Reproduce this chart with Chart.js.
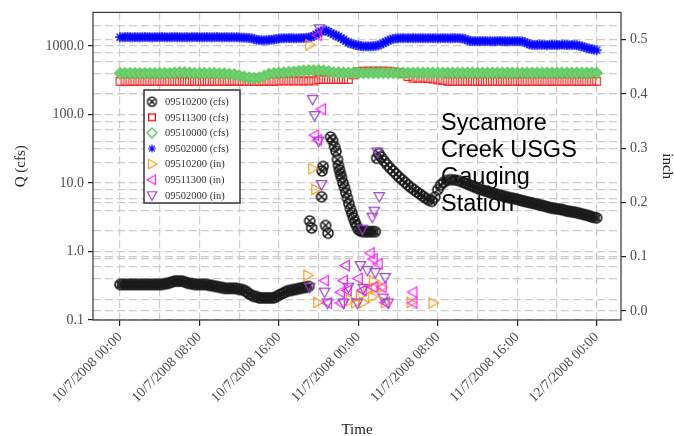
<!DOCTYPE html>
<html>
<head>
  <meta charset="utf-8">
  <title>Sycamore Creek USGS Gauging Station</title>
  <script src="https://cdn.jsdelivr.net/npm/chart.js@4"></script>
  <style>
    body { margin: 0; background: #fff; }
    #wrap { width: 674px; height: 436px; }
  </style>
</head>
<body>
<div id="wrap"><canvas id="chart" width="674" height="436"></canvas></div>
<script>
// hours after 10/7/2008 00:00
var halfHours = [0,0.5,1,1.5,2,2.5,3,3.5,4,4.5,5,5.5,6,6.5,7,7.5,8,8.5,9,9.5,10,10.5,11,11.5,12,12.5,13,13.5,14,14.5,15,15.5,16,16.5,17,17.5,18,18.5,19,19.5,20,20.5,21,21.5,22,22.5,23,23.5,24,24.5,25,25.5,26,26.5,27,27.5,28,28.5,29,29.5,30,30.5,31,31.5,32,32.5,33,33.5,34,34.5,35,35.5,36,36.5,37,37.5,38,38.5,39,39.5,40,40.5,41,41.5,42,42.5,43,43.5,44,44.5,45,45.5,46,46.5,47,47.5,48];
var quarterHours = [
  0,0.25,0.5,0.75,1,1.25,1.5,1.75, 2,2.25,2.5,2.75,3,3.25,3.5,3.75,
  4,4.25,4.5,4.75,5,5.25,5.5,5.75, 6,6.25,6.5,6.75,7,7.25,7.5,7.75,
  8,8.25,8.5,8.75,9,9.25,9.5,9.75, 10,10.25,10.5,10.75,11,11.25,11.5,11.75,
  12,12.25,12.5,12.75,13,13.25,13.5,13.75, 14,14.25,14.5,14.75,15,15.25,15.5,15.75,
  16,16.25,16.5,16.75,17,17.25,17.5,17.75, 18,18.25,18.5,18.75,19,19.25,19.5,19.75,
  20,20.25,20.5,20.75,21,21.25,21.5,21.75, 22,22.25,22.5,22.75,23,23.25,23.5,23.75,
  24,24.25,24.5,24.75,25,25.25,25.5,25.75, 26,26.25,26.5,26.75,27,27.25,27.5,27.75,
  28,28.25,28.5,28.75,29,29.25,29.5,29.75, 30,30.25,30.5,30.75,31,31.25,31.5,31.75,
  32,32.25,32.5,32.75,33,33.25,33.5,33.75, 34,34.25,34.5,34.75,35,35.25,35.5,35.75,
  36,36.25,36.5,36.75,37,37.25,37.5,37.75, 38,38.25,38.5,38.75,39,39.25,39.5,39.75,
  40,40.25,40.5,40.75,41,41.25,41.5,41.75, 42,42.25,42.5,42.75,43,43.25,43.5,43.75,
  44,44.25,44.5,44.75,45,45.25,45.5,45.75, 46,46.25,46.5,46.75,47,47.25,47.5,47.75,
  48];

// 09502000 (cfs), every 15 min
var blueQ = [
  1350,1340,1350,1360,1350,1340,1350,1350, 1340,1350,1360,1350,1350,1340,1350,1350,
  1350,1360,1350,1340,1350,1350,1360,1350, 1350,1340,1350,1350,1340,1350,1360,1350,
  1350,1340,1350,1350,1350,1340,1350,1360, 1350,1340,1350,1350,1340,1350,1340,1350,
  1340,1330,1330,1320,1310,1300,1260,1240, 1220,1220,1210,1220,1230,1240,1250,1270,
  1290,1300,1300,1300,1310,1300,1300,1300, 1300,1310,1310,1320,1330,1360,1400,1480,
  1550,1630,1700,1680,1620,1560,1480,1430, 1380,1310,1250,1180,1120,1090,1060,1040,
  1020,1000,990,990,990,990,1000,1010, 1020,1060,1100,1150,1200,1240,1280,1290,
  1300,1300,1310,1300,1300,1300,1310,1300, 1300,1310,1300,1300,1300,1310,1300,1300,
  1300,1300,1310,1300,1300,1300,1300,1310, 1300,1300,1290,1260,1220,1190,1180,1180,
  1180,1180,1190,1180,1180,1180,1170,1180, 1180,1190,1180,1180,1170,1180,1180,1180,
  1180,1180,1170,1140,1100,1060,1040,1040, 1040,1050,1040,1040,1030,1040,1040,1040,
  1040,1040,1050,1040,1040,1030,1040,1040, 1030,1010,990,960,940,920,900,890,
  870];

// 09510000 (cfs), every 30 min
var greenQ = [400,400,400,400,400,400,400,400,400,400,400,405,410,410,405,400,400,400,400,400,395,395,390,385,
  370,355,345,340,345,365,
  390,400,405,410,415,420,
  430,435,440,440,440,435,425,
  410,410,405,405,405,405,405,405,405,405,405,405,405,405,405,405,405,405,405,405,405,405,405,405,405,405,405,405,
  405,405,405,405,405,405,405,405,405,405,405,405,405,405,405,405,405,405,405,405,405,405,405,405,405,405];

// 09511300 (cfs), every 30 min
var redQ = [305,305,305,305,305,305,305,305,305,305,305,305,305,305,305,305,305,305,305,305,305,305,305,305,305,305,305,305,305,305,305,305,
  310,310,310,310,310,310,310,310,
  325,325,325,325,325,325,325,
  380,420,430,430,430,430,430,430,420,410,395,
  360,340,340,340,335,330,320,315,
  305,305,305,305,305,305,305,305,305,305,305,305,305,305,305,305,305,305,305,305,305,305,305,305,305,305,305,305,305,305,305];

// 09510200 (cfs)
var blackHours = [
  0,0.25,0.5,0.75,1,1.25,1.5,1.75, 2,2.25,2.5,2.75,3,3.25,3.5,3.75,
  4,4.25,4.5,4.75,5,5.25,5.5,5.75, 6,6.25,6.5,6.75,7,7.25,7.5,7.75,
  8,8.25,8.5,8.75,9,9.25,9.5,9.75, 10,10.25,10.5,10.75,11,11.25,11.5,11.75,
  12,12.25,12.5,12.75,13,13.25,13.5,13.75, 14,14.25,14.5,14.75,15,15.25,15.5,15.75,
  16,16.25,16.5,16.75,17,17.25,17.5,17.75, 18,18.25,18.5,18.75,19,
  19.1,19.3,20.3,20.35,20.45,20.7,20.95,
  21.2,21.4,21.6,21.75,21.9,22.0,22.1,22.2,22.3,22.45,22.6,22.75,22.9,23.05,23.2,23.35,23.5,23.65,23.8,24.0,24.2,24.45,24.7,24.95,25.2,25.45,25.7,
  25.85,26.05,26.3,26.6,26.9,27.2,27.5,27.8,28.1,28.4,28.7,29.0,29.3,29.6,29.9,30.2,30.5,30.8,31.1,31.4,31.7,32.0,32.3,32.6,32.9,33.3,33.7,34.1,
  34.5,34.75,35,35.25,35.5,35.75, 36,36.25,36.5,36.75,37,37.25,37.5,37.75,
  38,38.25,38.5,38.75,39,39.25,39.5,39.75, 40,40.25,40.5,40.75,41,41.25,41.5,41.75,
  42,42.25,42.5,42.75,43,43.25,43.5,43.75, 44,44.25,44.5,44.75,45,45.25,45.5,45.75,
  46,46.25,46.5,46.75,47,47.25,47.5,47.75, 48];
var blackQ = [
  0.33,0.33,0.33,0.33,0.33,0.33,0.33,0.33, 0.33,0.33,0.33,0.33,0.33,0.33,0.33,0.33,
  0.33,0.33,0.34,0.34,0.35,0.36,0.37,0.37, 0.37,0.37,0.36,0.35,0.34,0.34,0.33,0.33,
  0.33,0.33,0.33,0.33,0.32,0.32,0.31,0.31, 0.30,0.30,0.29,0.29,0.29,0.29,0.29,0.29,
  0.28,0.28,0.27,0.26,0.24,0.23,0.22,0.22, 0.21,0.21,0.21,0.21,0.21,0.21,0.21,0.22,
  0.23,0.24,0.25,0.26,0.27,0.27,0.28,0.28, 0.29,0.29,0.30,0.30,0.31,
  2.8,2.2,6.3,15,17.5,2.4,1.85,
  47,42,34,29,22,18,15.5,13.5,12,10,8.6,7.2,6.0,5.0,4.2,3.6,3.1,2.7,2.4,2.1,2.0,1.95,1.95,1.95,1.95,1.95,1.95,
  23,27,24,21,18.5,16.5,15,13.5,12.2,11.2,10.2,9.3,8.6,8.0,7.4,6.9,6.4,6.0,5.6,5.4,6.2,8.0,9.4,10.3,10.9,11.2,11.1,10.8,
  10.3,10.0,9.7,9.3,9.0,8.7, 8.4,8.1,7.9,7.7,7.5,7.3,7.1,6.95,
  6.8,6.65,6.5,6.35,6.2,6.1,6.0,5.9, 5.8,5.65,5.5,5.4,5.3,5.2,5.1,5.0,
  4.9,4.8,4.7,4.6,4.5,4.4,4.3,4.25, 4.2,4.15,4.1,4.0,3.9,3.85,3.8,3.75,
  3.7,3.6,3.55,3.45,3.4,3.3,3.2,3.15, 3.1];

// precipitation (inch)
var orangeHours = [18.9,19.1,19.4,19.7,19.9,23.2,23.7,24.2,24.5,24.9,25.4,25.5,25.7,26.4,26.7,29.3,31.5];
var orangeIn = [0.066,0.49,0.262,0.224,0.016,0.02,0.015,0.029,0.016,0.038,0.026,0.056,0.042,0.044,0.016,0.016,0.015];
var magentaHours = [19.9,20.3,19.6,19.9,25.2,25.5,26.0,22.7,20.6,22.5,22.2,22.9,24.4,26.4,20.9,22.2,26.7,29.5,29.5,25.5,24.0];
var magentaIn = [0.508,0.372,0.324,0.315,0.107,0.096,0.087,0.084,0.056,0.056,0.035,0.038,0.038,0.044,0.015,0.015,0.016,0.035,0.015,0.044,0.06];
var purpleHours = [20.1,19.4,19.6,20.0,20.3,24.4,25.4,25.6,26.1,25.9,19.1,20.6,24.2,24.9,25.7,26.7,23.0,24.5,20.9,22.5,23.9,26.5,27.0];
var purpleIn = [0.52,0.39,0.36,0.313,0.233,0.151,0.173,0.184,0.211,0.293,0.044,0.035,0.084,0.075,0.071,0.062,0.044,0.042,0.015,0.015,0.015,0.024,0.015];

var tickHours = [0, 8, 16, 24, 32, 40, 48];
var tickLabels = ['10/7/2008 00:00', '10/7/2008 08:00', '10/7/2008 16:00', '11/7/2008 00:00',
  '11/7/2008 08:00', '11/7/2008 16:00', '12/7/2008 00:00'];
var seriesNames = ['09510200 (cfs)', '09511300 (cfs)', '09510000 (cfs)', '09502000 (cfs)',
  '09510200 (in)', '09511300 (in)', '09502000 (in)'];
var titleLines = ['Sycamore', 'Creek USGS', 'Gauging', 'Station'];

var serif = '"Liberation Serif", "Times New Roman", serif';
var gridColor = '#cccccc';
var clear = 'rgba(0,0,0,0)';

function marker(kind, color, size, lw, fill) {
  var s = Math.ceil(size + 4), c = document.createElement('canvas');
  c.width = s; c.height = s;
  var g = c.getContext('2d'), m = s / 2, r = size / 2;
  g.strokeStyle = color; g.lineWidth = lw;
  g.beginPath();
  if (kind == 'circlex') {
    g.arc(m, m, r, 0, Math.PI * 2);
    var d = r * Math.SQRT1_2;
    g.moveTo(m - d, m - d); g.lineTo(m + d, m + d);
    g.moveTo(m + d, m - d); g.lineTo(m - d, m + d);
  } else if (kind == 'square') {
    g.rect(m - r * 0.85, m - r * 0.85, r * 1.7, r * 1.7);
  } else if (kind == 'diamond') {
    g.moveTo(m, m - r); g.lineTo(m + r, m); g.lineTo(m, m + r); g.lineTo(m - r, m); g.closePath();
  } else if (kind == 'star') {
    var k = r * Math.SQRT1_2;
    g.moveTo(m - r, m); g.lineTo(m + r, m); g.moveTo(m, m - r); g.lineTo(m, m + r);
    g.moveTo(m - k, m - k); g.lineTo(m + k, m + k); g.moveTo(m + k, m - k); g.lineTo(m - k, m + k);
  } else if (kind == 'right') {
    g.moveTo(m + r, m); g.lineTo(m - r * 0.7, m - r * 0.95); g.lineTo(m - r * 0.7, m + r * 0.95); g.closePath();
  } else if (kind == 'left') {
    g.moveTo(m - r, m); g.lineTo(m + r * 0.7, m - r * 0.95); g.lineTo(m + r * 0.7, m + r * 0.95); g.closePath();
  } else if (kind == 'down') {
    g.moveTo(m, m + r); g.lineTo(m - r * 0.95, m - r * 0.7); g.lineTo(m + r * 0.95, m - r * 0.7); g.closePath();
  }
  if (fill) { g.fillStyle = fill; g.fill(); }
  g.stroke();
  return c;
}

var legendMarkers = [
  marker('circlex', '#1a1a1a', 9, 1.4),
  marker('square', '#ff0000', 8, 1.2),
  marker('diamond', '#5fc85f', 10, 1.4),
  marker('star', '#0000ff', 8, 1.1),
  marker('right', '#ff9a1a', 10, 1.2),
  marker('left', '#ff1aff', 10, 1.2),
  marker('down', '#9b40d0', 10, 1.2)
];
var plotMarkers = [
  marker('circlex', '#1a1a1a', 10, 1.6),
  marker('square', '#ff2020', 9, 1.2),
  marker('diamond', '#5fc85f', 11, 1.4, '#74d074'),
  marker('star', '#0000ff', 10, 1.3),
  marker('right', '#ff9a1a', 11, 1.2),
  marker('left', '#ff1aff', 11, 1.2),
  marker('down', '#9b40d0', 11, 1.2)
];

function points(xs, ys) {
  var out = [];
  for (var i = 0; i < xs.length; i++) out.push({ x: xs[i], y: ys[i] });
  return out;
}

var seriesData = [
  points(blackHours, blackQ),
  points(halfHours, redQ),
  points(halfHours, greenQ),
  points(quarterHours, blueQ),
  points(orangeHours, orangeIn),
  points(magentaHours, magentaIn),
  points(purpleHours, purpleIn)
];

var datasets = seriesData.map(function (d, i) {
  return {
    label: seriesNames[i],
    data: d,
    yAxisID: i < 4 ? 'y' : 'y2',
    pointStyle: plotMarkers[i],
    pointRadius: 5,
    showLine: false,
    order: 10 - i
  };
});

function isDecade(v) {
  var l = Math.log10(v);
  return Math.abs(l - Math.round(l)) < 1e-6;
}
function mantissa(v) {
  var m = v / Math.pow(10, Math.floor(Math.log10(v) + 1e-9));
  return Math.round(m * 100) / 100;
}

var decorations = {
  id: 'decorations',
  beforeDatasetsDraw: function (chart) {
    var ctx = chart.ctx;
    ctx.save();
    ctx.fillStyle = '#000';
    ctx.font = '23.5px "Liberation Sans", Arial, sans-serif';
    ctx.textBaseline = 'alphabetic';
    titleLines.forEach(function (t, i) { ctx.fillText(t, 441, 130 + i * 27); });
    ctx.restore();
  },
  afterDatasetsDraw: function (chart) {
    var ctx = chart.ctx, a = chart.chartArea;
    ctx.save();
    ctx.strokeStyle = '#333';
    ctx.lineWidth = 1.2;
    ctx.strokeRect(a.left, a.top, a.right - a.left, a.bottom - a.top);
    // legend
    ctx.fillStyle = '#fff';
    ctx.fillRect(144, 90, 96, 113);
    ctx.lineWidth = 1.5;
    ctx.strokeRect(144, 90, 96, 113);
    ctx.font = '10.5px ' + serif;
    ctx.fillStyle = '#333';
    ctx.textBaseline = 'middle';
    seriesNames.forEach(function (n, i) {
      var y = 101.7 + i * 15.6, mk = legendMarkers[i];
      ctx.drawImage(mk, 152 - mk.width / 2, y - mk.height / 2);
      ctx.fillText(n, 165, y + 0.5);
    });
    ctx.restore();
  }
};

new Chart(document.getElementById('chart'), {
  type: 'scatter',
  data: { datasets: datasets },
  options: {
    responsive: false,
    animation: false,
    layout: { padding: { top: 9 } },
    plugins: { legend: { display: false }, tooltip: { enabled: false } },
    scales: {
      x: {
        type: 'linear', min: -2.72, max: 50.45,
        afterFit: function (s) { s.height = 116; },
        ticks: {
          stepSize: 4, includeBounds: false, autoSkip: false, minRotation: 45, maxRotation: 45,
          padding: 3, color: '#4d4d4d', font: { family: serif, size: 14 },
          callback: function (v) { var i = tickHours.indexOf(v); return i < 0 ? '' : tickLabels[i]; }
        },
        grid: {
          color: gridColor, lineWidth: 1.2, tickLength: 6, tickWidth: 1.2,
          tickColor: function (c) { return tickHours.indexOf(c.tick.value) < 0 ? clear : '#222'; }
        },
        border: { display: false, dash: [8, 4] },
        title: { display: true, text: 'Time', color: '#222', font: { family: serif, size: 15, lineHeight: 1 }, padding: { bottom: -2 } }
      },
      y: {
        type: 'logarithmic', position: 'left', min: 0.1, max: 3100,
        afterFit: function (s) { s.width = 93; },
        ticks: {
          autoSkip: false, padding: 4, color: '#4d4d4d', font: { family: serif, size: 14 },
          callback: function (v) { return isDecade(v) ? v.toFixed(1) : ''; }
        },
        grid: {
          lineWidth: 1.2, tickLength: 5, tickWidth: 1.2,
          color: function (c) { return [1, 2, 4, 6, 8].indexOf(mantissa(c.tick.value)) < 0 ? clear : gridColor; },
          tickColor: function (c) { return isDecade(c.tick.value) ? '#222' : clear; }
        },
        border: { display: false, dash: [8, 4] },
        title: { display: true, text: 'Q (cfs)', color: '#222', font: { family: serif, size: 15, lineHeight: 1 }, padding: { top: 14 } }
      },
      y2: {
        type: 'linear', position: 'right', min: -0.0164, max: 0.55,
        afterFit: function (s) { s.width = 53; },
        ticks: {
          stepSize: 0.1, includeBounds: false, padding: 4, color: '#4d4d4d', font: { family: serif, size: 14 },
          callback: function (v) { return v.toFixed(1); }
        },
        grid: { color: gridColor, lineWidth: 1.2, tickLength: 5, tickWidth: 1.2, tickColor: '#222' },
        border: { display: false, dash: [8, 4] },
        title: { display: true, text: 'inch', color: '#222', font: { family: serif, size: 15, lineHeight: 1 }, padding: 0 }
      }
    }
  },
  plugins: [decorations]
});
</script>
</body>
</html>
